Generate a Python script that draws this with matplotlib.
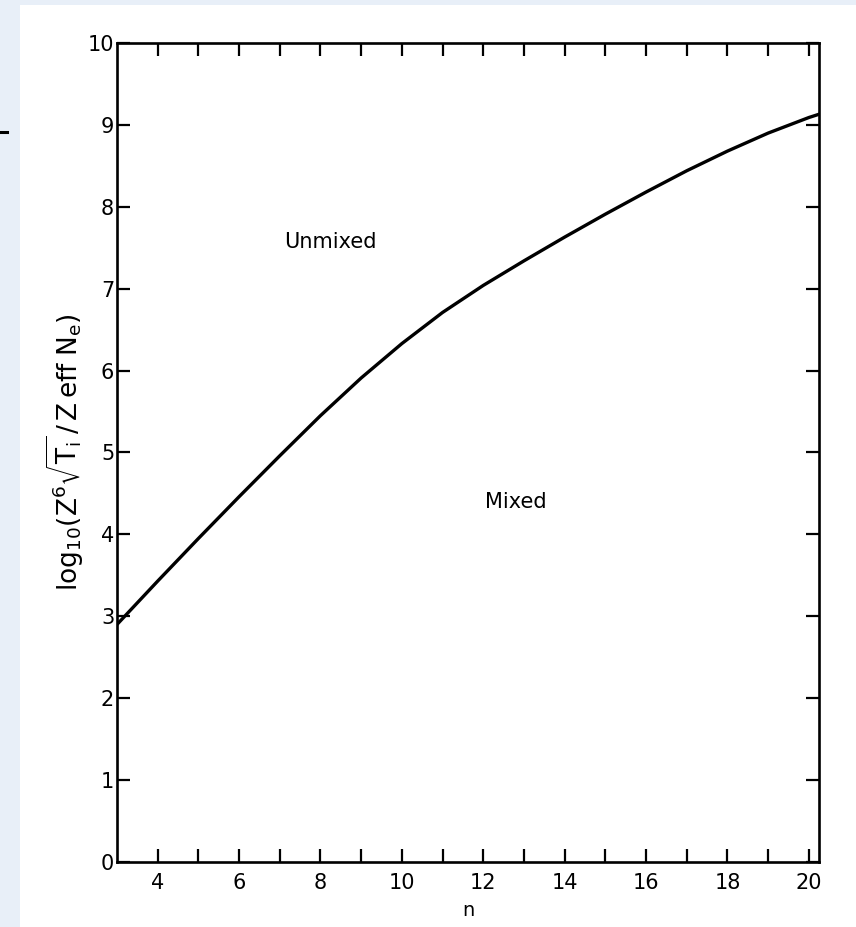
import numpy as np
import matplotlib
matplotlib.use('Agg')
import matplotlib.pyplot as plt
from matplotlib.patches import Rectangle
from matplotlib.lines import Line2D

# boundary curve
n_vals = [3, 4, 5, 6, 7, 8, 9, 10, 11, 12, 13, 14, 15, 16, 17, 18, 19, 20, 20.25]
log_vals = [2.90, 3.43, 3.95, 4.46, 4.96, 5.45, 5.91, 6.33, 6.71, 7.04, 7.34, 7.63, 7.91, 8.18, 8.44, 8.68, 8.90, 9.09, 9.13]

x_major = [4, 6, 8, 10, 12, 14, 16, 18, 20]
x_minor = [5, 7, 9, 11, 13, 15, 17, 19]
y_ticks = list(range(0, 11))

region_labels = ['Unmixed', 'Mixed']
region_pos = [(8.24, 7.57), (12.8, 4.39)]

plt.rcParams['font.family'] = 'DejaVu Sans'
plt.rcParams['mathtext.fontset'] = 'dejavusans'

fig = plt.figure(figsize=(8.56, 9.27), dpi=100)
fig.patch.set_facecolor('white')

# scan border strips
fig.patches.append(Rectangle((0, 0), 20 / 856, 1, transform=fig.transFigure,
                             facecolor='#e8eff8', edgecolor='none', zorder=0))
fig.patches.append(Rectangle((0, 1 - 5 / 927), 1, 5 / 927, transform=fig.transFigure,
                             facecolor='#e8eff8', edgecolor='none', zorder=0))
fig.lines.append(Line2D([0, 7 / 856], [1 - 132 / 927, 1 - 132 / 927], transform=fig.transFigure,
                        color='black', lw=2.2))

ax = fig.add_axes([117 / 856, 1 - 862 / 927, (819 - 117) / 856, (862 - 43) / 927])

ax.plot(n_vals, log_vals, color='black', lw=2.4)

ax.set_xlim(3, 20.25)
ax.set_ylim(0, 10)
ax.set_xticks(x_major)
ax.set_xticks(x_minor, minor=True)
ax.set_yticks(y_ticks)
ax.tick_params(axis='both', which='both', direction='in', length=9.5, width=1.6,
               top=True, right=True, labelsize=15, colors='black')
ax.tick_params(axis='x', pad=8)
ax.tick_params(axis='y', pad=2)

for s in ax.spines.values():
    s.set_linewidth(1.9)

ax.set_xlabel('n', fontsize=14, labelpad=6)
ax.set_ylabel(r'$\mathregular{log_{10}(Z^6\sqrt{T_i}\,/\,Z\,eff\;N_e)}$', fontsize=19, labelpad=1)

for lab, (xx, yy) in zip(region_labels, region_pos):
    ax.text(xx, yy, lab, fontsize=15, ha='center', va='center')

fig.savefig('out.png', dpi=100)
